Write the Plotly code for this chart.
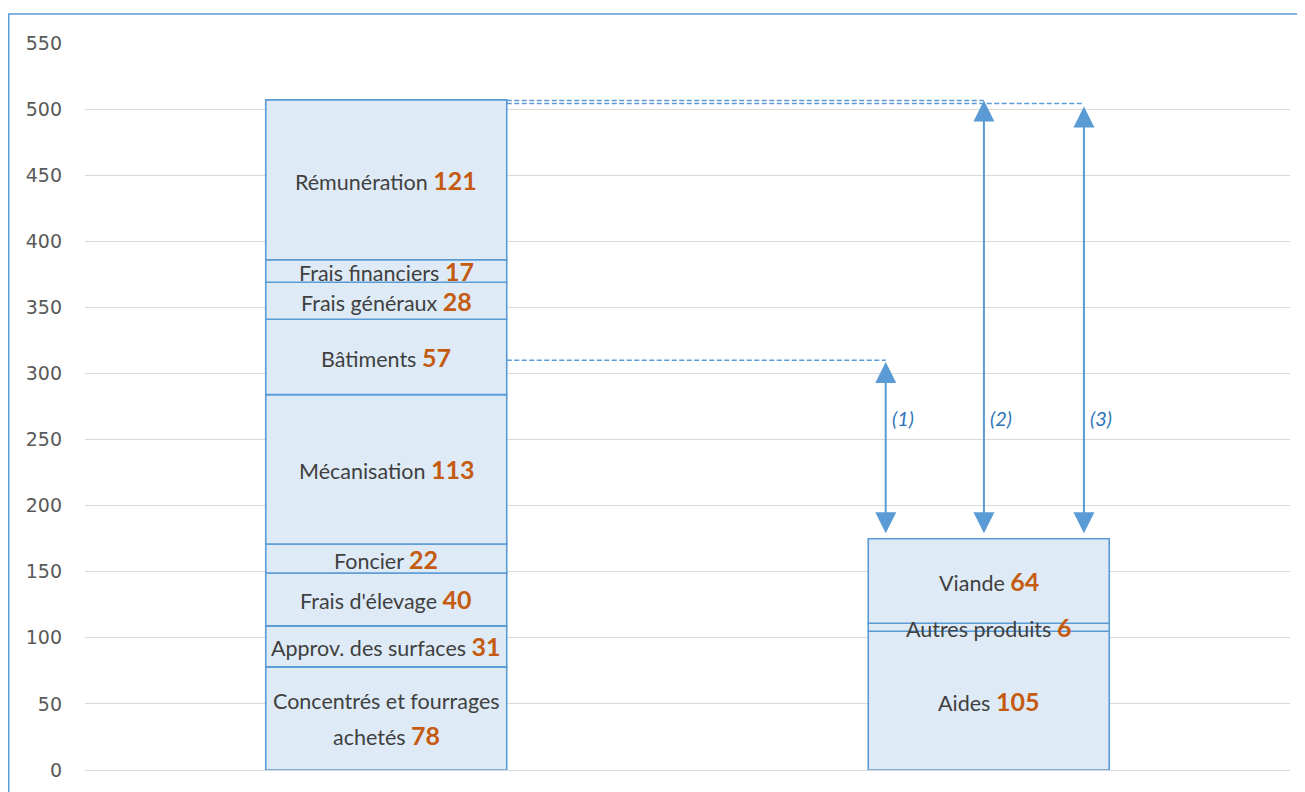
import plotly.graph_objects as go
import numpy as np

# ---- data ----
left_labels = ["Concentrés et fourrages<br>achetés", "Approv. des surfaces", "Frais d'élevage",
               "Foncier", "Mécanisation", "Bâtiments", "Frais généraux", "Frais financiers",
               "Rémunération"]
left_values = [78, 31, 40, 22, 113, 57, 28, 17, 121]
right_labels = ["Aides", "Autres produits", "Viande"]
right_values = [105, 6, 64]

# levels referenced by the arrows (1), (2), (3)
arrow_names = ["(1)", "(2)", "(3)"]
arrow_tops = [310, 506.5, 504.3]
arrow_bottom = 178

y_ticks = list(range(0, 551, 50))

# ---- style ----
FILL = "#DEEBF7"
EDGE = "#5B9BD5"
TXT = "#404040"
NUM = "#C55A11"
LBL_FONT = "Lato"

OFF = 8  # default page body margin
W, H = 1305 - OFF, 792 - OFF
ML, MR, MT, MB = 85 - OFF, 15, 43 - OFF, 22
BAR_W = 0.4
arrow_x = [0.829, 0.992, 1.158]

fig = go.Figure()

annotations = []
shapes = []

for col, (labels, vals) in enumerate([(left_labels, left_values), (right_labels, right_values)]):
    vals = np.array(vals, dtype=float)
    bases = np.concatenate([[0], np.cumsum(vals)[:-1]])
    fig.add_trace(go.Bar(
        x=[col] * len(vals), y=vals, base=bases, width=BAR_W,
        marker=dict(color=FILL, line=dict(color=EDGE, width=1.6)),
        hoverinfo="skip", showlegend=False,
    ))
    for lab, v, b in zip(labels, vals, bases):
        num = f"<span style='font-size:25px;color:{NUM}'><b>{int(v)}</b></span>"
        lines = lab.split("<br>")
        if len(lines) == 1:
            annotations.append(dict(
                x=col, y=b + v / 2, xref="x", yref="y", showarrow=False,
                text=f"{lab} {num}",
                font=dict(family=LBL_FONT, size=21.5, color=TXT), align="center",
            ))
        else:
            annotations.append(dict(
                x=col, y=b + v / 2, xref="x", yref="y", showarrow=False, yshift=17,
                text=lines[0], font=dict(family=LBL_FONT, size=21.5, color=TXT),
            ))
            annotations.append(dict(
                x=col, y=b + v / 2, xref="x", yref="y", showarrow=False, yshift=-17,
                text=f"{lines[1]} {num}", font=dict(family=LBL_FONT, size=21.5, color=TXT),
            ))

left_edge = 0 + BAR_W / 2

# dashed guide lines
for xa, top in zip(arrow_x, arrow_tops):
    shapes.append(dict(type="line", xref="x", yref="y", x0=left_edge, x1=xa, y0=top, y1=top,
                       line=dict(color=EDGE, width=1.5, dash="5px,2.5px"), layer="above"))

# double-headed arrows
arrow_top_tips = [arrow_tops[0] - 1.3, arrow_tops[1], arrow_tops[2] - 2.3]
for xa, top, name in zip(arrow_x, arrow_top_tips, arrow_names):
    annotations.append(dict(
        x=xa, y=top, ax=xa, ay=arrow_bottom, xref="x", yref="y", axref="x", ayref="y",
        showarrow=True, arrowhead=2, startarrowhead=2, arrowside="end+start",
        arrowsize=2.1, startarrowsize=2.1, arrowwidth=2, arrowcolor=EDGE, text="",
        standoff=0, startstandoff=0,
    ))
    annotations.append(dict(
        x=xa, y=266, xref="x", yref="y", showarrow=False, xshift=17,
        text=f"<i>{name}</i>", font=dict(family=LBL_FONT, size=20, color="#2E75B6"),
    ))

# outer chart border (extends beyond right and bottom of the view)
pw = W - ML - MR
ph = H - MT - MB
shapes.append(dict(type="rect", xref="paper", yref="paper",
                   x0=(0.75 - ML) / pw, x1=(W + 20 - ML) / pw,
                   y0=-0.2, y1=(H - MB - 6) / ph,
                   line=dict(color=EDGE, width=1.5), fillcolor="rgba(0,0,0,0)", layer="above"))

fig.update_layout(
    width=W, height=H,
    margin=dict(l=ML, r=MR, t=MT, b=MB),
    paper_bgcolor="white", plot_bgcolor="white",
    barmode="overlay",
    showlegend=False,
    annotations=annotations,
    shapes=shapes,
    xaxis=dict(range=[-0.5, 1.5], showticklabels=False, showgrid=False, zeroline=False,
               showline=False, ticks=""),
    yaxis=dict(range=[0, 550], tickvals=y_ticks, ticktext=[str(t) for t in y_ticks],
               showgrid=True, gridcolor="#D9D9D9", gridwidth=1.3,
               zeroline=True, zerolinecolor="#D9D9D9", zerolinewidth=1.3,
               showline=False, ticks="", ticklabelstandoff=22,
               tickfont=dict(family="DejaVu Sans", size=19, color="#595959")),
)

fig.write_html("out.html")
